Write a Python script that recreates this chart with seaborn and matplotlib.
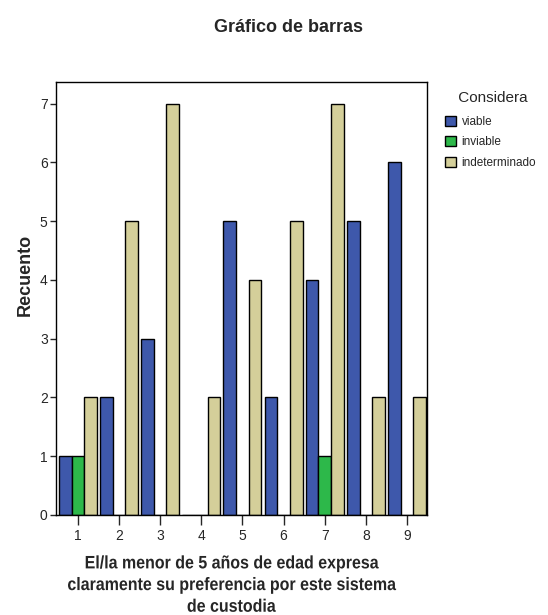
import matplotlib
matplotlib.use("Agg")
import matplotlib.pyplot as plt
import seaborn as sns
import pandas as pd
from matplotlib.patheffects import AbstractPathEffect
from matplotlib.transforms import Affine2D

# Counts per answer category (1-9) for each assessment group
categories = ["1", "2", "3", "4", "5", "6", "7", "8", "9"]
viable = [1, 2, 3, 0, 5, 2, 4, 5, 6]
inviable = [1, 0, 0, 0, 0, 0, 1, 0, 0]
indeterminado = [2, 5, 7, 2, 4, 5, 7, 2, 2]
groups = ["viable", "inviable", "indeterminado"]
colors = ["#3E58AB", "#2DB84A", "#D4CF9A"]

rows = []
for name, vals in zip(groups, [viable, inviable, indeterminado]):
    for c, v in zip(categories, vals):
        rows.append({"cat": c, "Considera": name, "Recuento": v})
df = pd.DataFrame(rows)


class Condense(AbstractPathEffect):
    """Squeeze each text line horizontally around its own centre."""

    def __init__(self, sx):
        super().__init__()
        self.sx = sx

    def draw_path(self, renderer, gc, tpath, affine, rgbFace=None):
        ext = tpath.get_extents()
        cx = 0.5 * (ext.x0 + ext.x1)
        squeeze = Affine2D().translate(-cx, 0).scale(self.sx, 1).translate(cx, 0)
        renderer.draw_path(gc, tpath, squeeze + affine, rgbFace)


sns.set_style("white")
plt.rcParams["font.family"] = ["Liberation Sans", "DejaVu Sans"]

fig = plt.figure(figsize=(5.48, 6.15), dpi=100)
ax = fig.add_axes([56 / 548, 1 - 515 / 615, (427 - 56) / 548, (515 - 82) / 615])

sns.barplot(data=df, x="cat", y="Recuento", hue="Considera", order=categories,
            hue_order=groups, palette=colors, width=0.92, gap=0,
            edgecolor="black", linewidth=1.0, saturation=1, ax=ax, legend=True)

ax.set_xlim(-0.53, 8.485)
ax.set_ylim(0, 7.37)
ax.set_yticks(range(0, 8))

for s in ax.spines.values():
    s.set_visible(True)
    s.set_color("black")
    s.set_linewidth(1.0)

ax.tick_params(axis="y", direction="out", length=4, width=1, labelsize=10, pad=2, left=True)
ax.tick_params(axis="x", direction="out", length=7, width=1, labelsize=10, pad=3, bottom=True)

ax.set_ylabel("Recuento", fontsize=13, fontweight="bold", labelpad=4, y=0.554)
xl = ax.set_xlabel("El/la menor de 5 años de edad expresa\nclaramente su preferencia por este sistema\nde custodia",
                   fontsize=13, fontweight="bold", linespacing=1.36, labelpad=9, x=0.472)
xl.set_path_effects([Condense(0.885)])

fig.text(288 / 548, 1 - 28 / 615, "Gráfico de barras", ha="center", va="center",
         fontsize=13, fontweight="bold")

leg = ax.legend(title=" Considera", loc="upper left", bbox_to_anchor=(1.03, 0.995),
                frameon=False, fontsize=8.5, title_fontsize=11,
                handlelength=0.95, handleheight=0.95, handletextpad=0.45,
                labelspacing=0.72, borderaxespad=0.2)
leg._legend_box.sep = 7.5
for h in leg.legend_handles:
    h.set_edgecolor("black")
    h.set_linewidth(1.0)

fig.savefig("out.png", dpi=100)
